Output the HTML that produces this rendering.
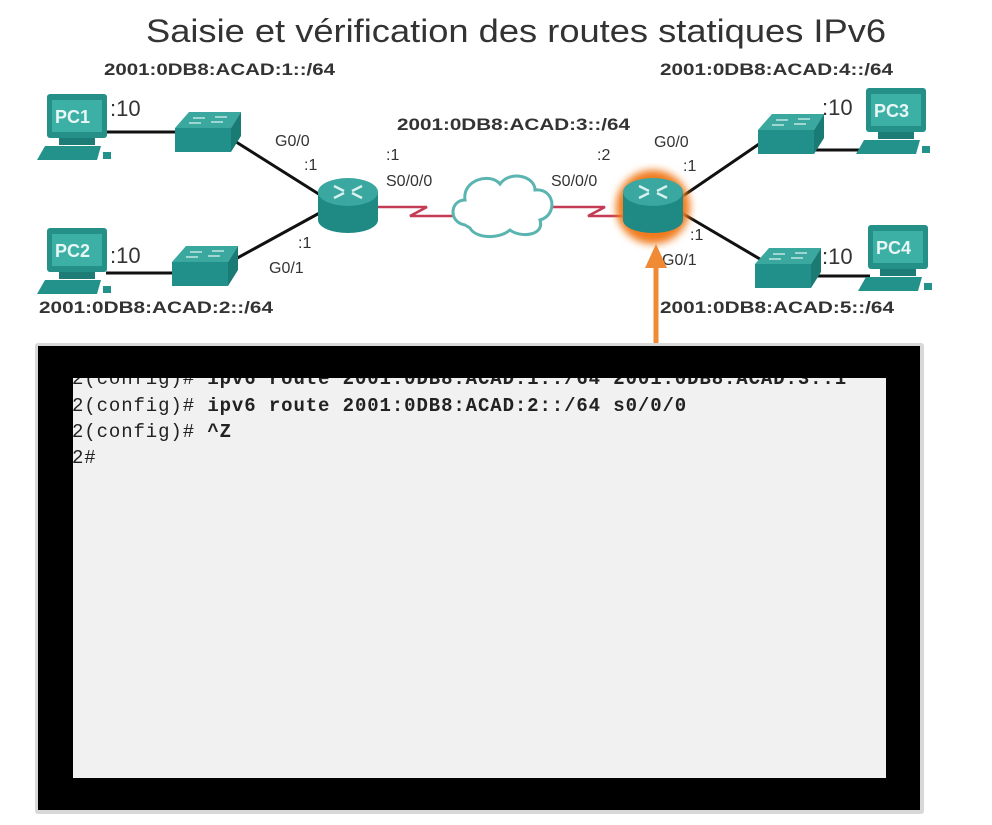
<!DOCTYPE html>
<html><head><meta charset="utf-8"><style>
html,body{margin:0;padding:0;background:#fff;}
svg{display:block;}
</style></head><body>
<svg width="992" height="825" viewBox="0 0 992 825" xmlns="http://www.w3.org/2000/svg">
<defs>
<g id="pc">
  <rect x="0" y="0" width="60" height="44" rx="3" fill="#259088"/>
  <rect x="5" y="6" width="50" height="32" fill="#3db0a6"/>
  <rect x="12" y="44" width="36" height="7" fill="#1d7d76"/>
  <polygon points="-2,52 54,52 50,66 -10,66" fill="#23928a"/>
  <rect x="56" y="58" width="8" height="7" fill="#23928a"/>
</g>
<g id="sw">
  <polygon points="0,16 14,0 66,0 56,16" fill="#3aa89f"/>
  <rect x="0" y="16" width="56" height="24" fill="#21908a"/>
  <polygon points="56,16 66,0 66,24 56,40" fill="#1a7a74"/>
  <path d="M18,6 L30,6 M36,10 L48,10 M14,11 L26,11 M40,5 L52,5" stroke="#bfe6e2" stroke-width="1.5"/>
</g>
<g id="rt">
  <rect x="-30" y="0" width="60" height="28" fill="#1f8a84"/>
  <ellipse cx="0" cy="28" rx="30" ry="13" fill="#1f8a84"/>
  <ellipse cx="0" cy="0" rx="30" ry="14" fill="#3aa8a0"/>
  <path d="M-14,-6 L-4,-1 M-14,6 L-4,1 M14,-6 L4,-1 M14,6 L4,1" stroke="#d8f0ee" stroke-width="2.5"/>
</g>
<filter id="blur"><feGaussianBlur stdDeviation="4"/></filter>
</defs>

<text x="146" y="42" font-family="Liberation Sans, sans-serif" font-size="32" fill="#333" textLength="740" lengthAdjust="spacingAndGlyphs">Saisie et vérification des routes statiques IPv6</text>
<g font-family="Liberation Sans, sans-serif" font-size="17" fill="#333" font-weight="bold">
<text x="104" y="75" textLength="231" lengthAdjust="spacingAndGlyphs">2001:0DB8:ACAD:1::/64</text>
<text x="660" y="75" textLength="233" lengthAdjust="spacingAndGlyphs">2001:0DB8:ACAD:4::/64</text>
<text x="397" y="130" textLength="233" lengthAdjust="spacingAndGlyphs">2001:0DB8:ACAD:3::/64</text>
<text x="39" y="313" textLength="234" lengthAdjust="spacingAndGlyphs">2001:0DB8:ACAD:2::/64</text>
<text x="660" y="313" textLength="234" lengthAdjust="spacingAndGlyphs">2001:0DB8:ACAD:5::/64</text>
</g>

<g stroke="#111" stroke-width="3">
<line x1="106" y1="132" x2="180" y2="132"/>
<line x1="106" y1="273" x2="178" y2="273"/>
<line x1="233" y1="140" x2="325" y2="198"/>
<line x1="230" y1="262" x2="325" y2="210"/>
<line x1="680" y1="198" x2="765" y2="140"/>
<line x1="680" y1="212" x2="765" y2="262"/>
<line x1="815" y1="150" x2="870" y2="150"/>
<line x1="815" y1="276" x2="870" y2="276"/>
</g>
<g stroke="#c33b55" stroke-width="2.5" fill="none">
<polyline points="378,207 427,207 410,216 455,216"/>
<polyline points="552,207 605,207 588,216 625,216"/>
</g>
<path d="M465,225 C448,222 450,200 465,200 C462,180 490,172 500,184 C510,170 535,176 535,190 C555,188 558,215 540,220 C545,236 520,238 510,230 C498,240 475,238 470,228 Z" fill="#fff" stroke="#5ab4b0" stroke-width="3"/>

<use href="#pc" x="47" y="94"/>
<use href="#pc" x="47" y="228"/>
<use href="#pc" x="866" y="88"/>
<use href="#pc" x="868" y="225"/>
<g font-family="Liberation Sans, sans-serif" font-weight="bold" font-size="18" fill="#e8f7f5">
<text x="55" y="123">PC1</text><text x="55" y="257">PC2</text>
<text x="874" y="117">PC3</text><text x="876" y="254">PC4</text>
</g>
<use href="#sw" x="175" y="112"/>
<use href="#sw" x="172" y="246"/>
<use href="#sw" x="758" y="114"/>
<use href="#sw" x="755" y="248"/>

<circle cx="653" cy="207" r="37" fill="#f07a1a" filter="url(#blur)"/>
<use href="#rt" x="348" y="192"/>
<use href="#rt" x="653" y="192"/>

<g font-family="Liberation Sans, sans-serif" font-size="22" fill="#333">
<text x="110" y="116">:10</text><text x="110" y="263">:10</text>
<text x="822" y="115">:10</text><text x="822" y="264">:10</text>
</g>
<g font-family="Liberation Sans, sans-serif" font-size="16" fill="#333">
<text x="275" y="146">G0/0</text><text x="304" y="170">:1</text>
<text x="298" y="248">:1</text><text x="269" y="273">G0/1</text>
<text x="386" y="160">:1</text><text x="386" y="186">S0/0/0</text>
<text x="597" y="160">:2</text><text x="551" y="186">S0/0/0</text>
<text x="654" y="147">G0/0</text><text x="683" y="171">:1</text>
<text x="690" y="240">:1</text><text x="662" y="265">G0/1</text>
</g>

<line x1="656" y1="347" x2="656" y2="262" stroke="#f08a35" stroke-width="5"/>
<polygon points="645,268 667,268 656,244" fill="#f08a35"/>

<rect x="35" y="343" width="889" height="471" rx="3" fill="#d8d8d8"/>
<rect x="38" y="346" width="882" height="464" fill="#000"/>
<rect x="73" y="378" width="813" height="400" fill="#f1f1f1"/>
<clipPath id="tc"><rect x="73" y="378" width="813" height="400"/></clipPath>
<g clip-path="url(#tc)" font-family="Liberation Mono, monospace" font-size="19" fill="#222" letter-spacing="0.9">
<text x="72" y="384">2(config)# <tspan font-weight="bold">ipv6 route 2001:0DB8:ACAD:1::/64 2001:0DB8:ACAD:3::1</tspan></text>
<text x="72" y="411">2(config)# <tspan font-weight="bold">ipv6 route 2001:0DB8:ACAD:2::/64 s0/0/0</tspan></text>
<text x="72" y="437">2(config)# <tspan font-weight="bold">^Z</tspan></text>
<text x="72" y="463">2#</text>
</g>
</svg>
</body></html>
